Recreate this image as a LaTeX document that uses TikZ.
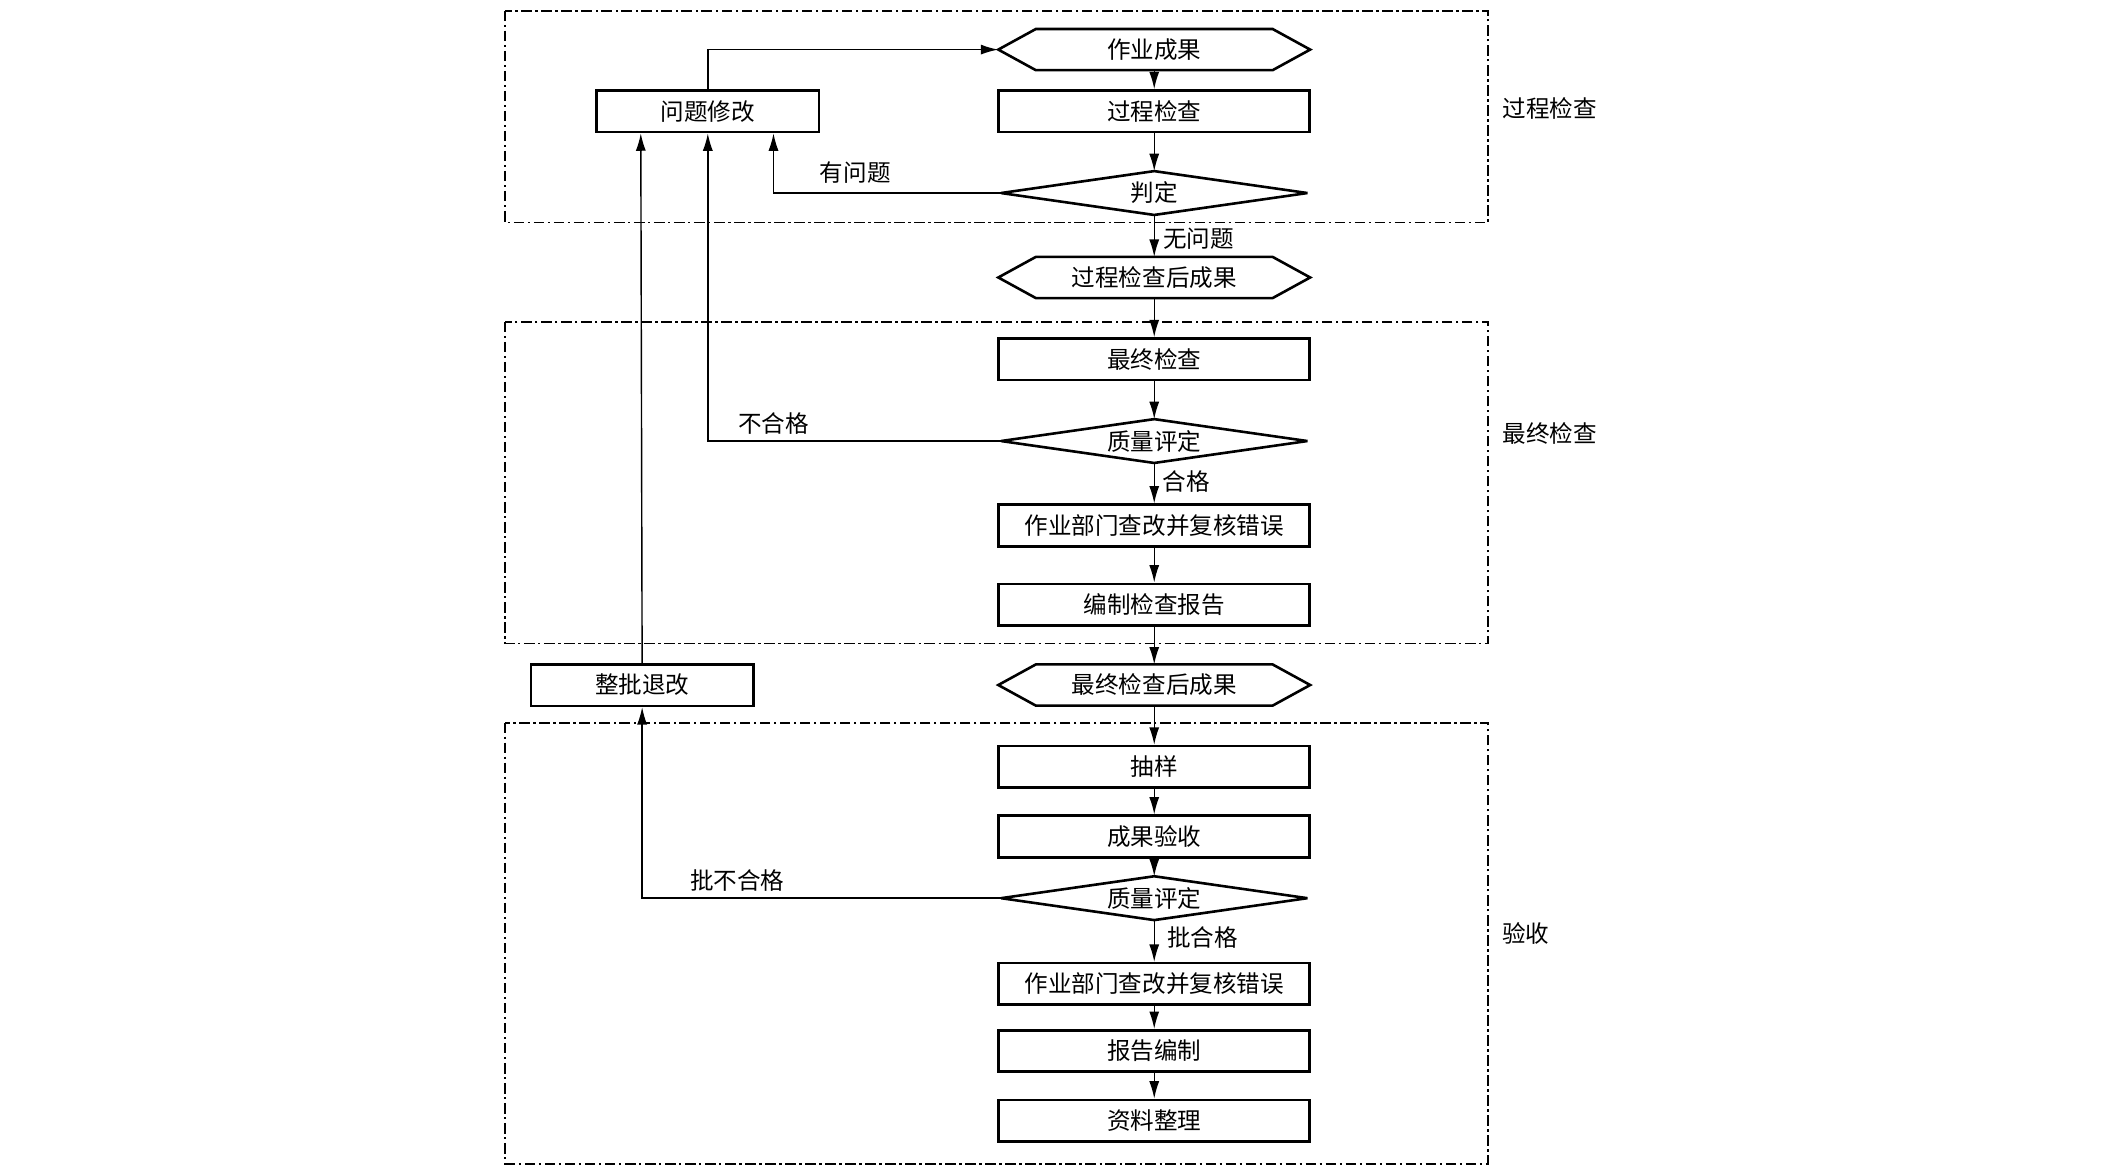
\documentclass[tikz,border=0pt]{standalone}
\usepackage{fontspec}
\setmainfont{Noto Sans CJK SC}
\usetikzlibrary{arrows.meta,calc}
\begin{document}
\begin{tikzpicture}[x=0.02cm,y=-0.02cm,
  txt/.style={font=\fontsize{10}{12}\selectfont,inner sep=0pt},
  box/.style={txt,draw,line width=1.1pt,minimum width=4.64cm,minimum height=0.62cm},
  lbox/.style={box,minimum width=3.32cm},
  hexa/.style={txt,minimum width=4.64cm,minimum height=0.6cm},
  dia/.style={txt,minimum width=4.56cm,minimum height=0.64cm},
  outl/.style={line width=1.1pt,line join=miter,miter limit=3},
  arr/.style={line width=0.6pt,-{Latex[length=2.6mm,width=1.5mm]}},
  zone/.style={line width=0.8pt,dash pattern=on 4.5pt off 1.5pt on 1pt off 1.5pt},
  lab/.style={txt}]
\fill[white] (0,0) rectangle (1568,874);
\useasboundingbox (0,0) rectangle (1568,874);
% zones
\draw[zone] (377,8) rectangle (1110,166);
\draw[zone] (377,240) rectangle (1110,480);
\draw[zone] (377,539) rectangle (1110,868);
\node[lab] (z1) at (1156,81) {过程检查};
\node[lab] (z2) at (1156,323) {最终检查};
\node[lab] (z3) at (1138,696) {验收};
% main column
\node[hexa] (r1) at (861,37) {作业成果};
\node[box] (r2) at (861,83) {过程检查};
\node[dia] (pd) at (861,144) {判定};
\node[hexa] (r4) at (861,207) {过程检查后成果};
\node[box] (r5) at (861,268) {最终检查};
\node[dia] (q1) at (861,329) {质量评定};
\node[box] (r6) at (861,392) {作业部门查改并复核错误};
\node[box] (r7) at (861,451) {编制检查报告};
\node[hexa] (r8) at (861,511) {最终检查后成果};
\node[box] (r9) at (861,572) {抽样};
\node[box] (r10) at (861,624) {成果验收};
\node[dia] (q2) at (861,670) {质量评定};
\node[box] (r11) at (861,734) {作业部门查改并复核错误};
\node[box] (r12) at (861,784) {报告编制};
\node[box] (r13) at (861,836) {资料整理};
% left column
\node[lbox] (wt) at (528,83) {问题修改};
\node[lbox] (zp) at (479,511) {整批退改};
% shapes
\foreach \n in {r1,r4,r8}{
  \draw[outl] (\n.west) -- ([xshift=0.56cm]\n.north west) -- ([xshift=-0.56cm]\n.north east)
     -- (\n.east) -- ([xshift=-0.56cm]\n.south east) -- ([xshift=0.56cm]\n.south west) -- cycle;}
\foreach \n in {pd,q1,q2}{
  \draw[outl] (\n.west) -- (\n.north) -- (\n.east) -- (\n.south) -- cycle;}
% main arrows
\draw[arr] (r1.south) -- (r2.north);
\draw[arr] (r2.south) -- (pd.north);
\draw[arr] (pd.south) -- (r4.north);
\draw[arr] (r4.south) -- (r5.north);
\draw[arr] (r5.south) -- (q1.north);
\draw[arr] (q1.south) -- (r6.north);
\draw[arr] (r6.south) -- (r7.north);
\draw[arr] (r7.south) -- (r8.north);
\draw[arr] (r8.south) -- (r9.north);
\draw[arr] (r9.south) -- (r10.north);
\draw[arr] (r10.south) -- (q2.north);
\draw[arr] (q2.south) -- (r11.north);
\draw[arr] (r11.south) -- (r12.north);
\draw[arr] (r12.south) -- (r13.north);
% feedback arrows
\draw[arr] (wt.north) |- (r1.west);
\draw[arr] (pd.west) -| ([xshift=0.98cm]wt.south);
\draw[arr] (q1.west) -| (wt.south);
\draw[arr] (zp.north) -- ([xshift=-0.02cm]zp.north |- wt.south);
\draw[arr] (q2.west) -| (zp.south);
% labels
\node[lab] (l1) at (638,129) {有问题};
\node[lab] (l2) at (894,178) {无问题};
\node[lab] (l3) at (577,316) {不合格};
\node[lab] (l4) at (885,359) {合格};
\node[lab] (l5) at (550,657) {批不合格};
\node[lab] (l6) at (897,699) {批合格};
\end{tikzpicture}
\end{document}
